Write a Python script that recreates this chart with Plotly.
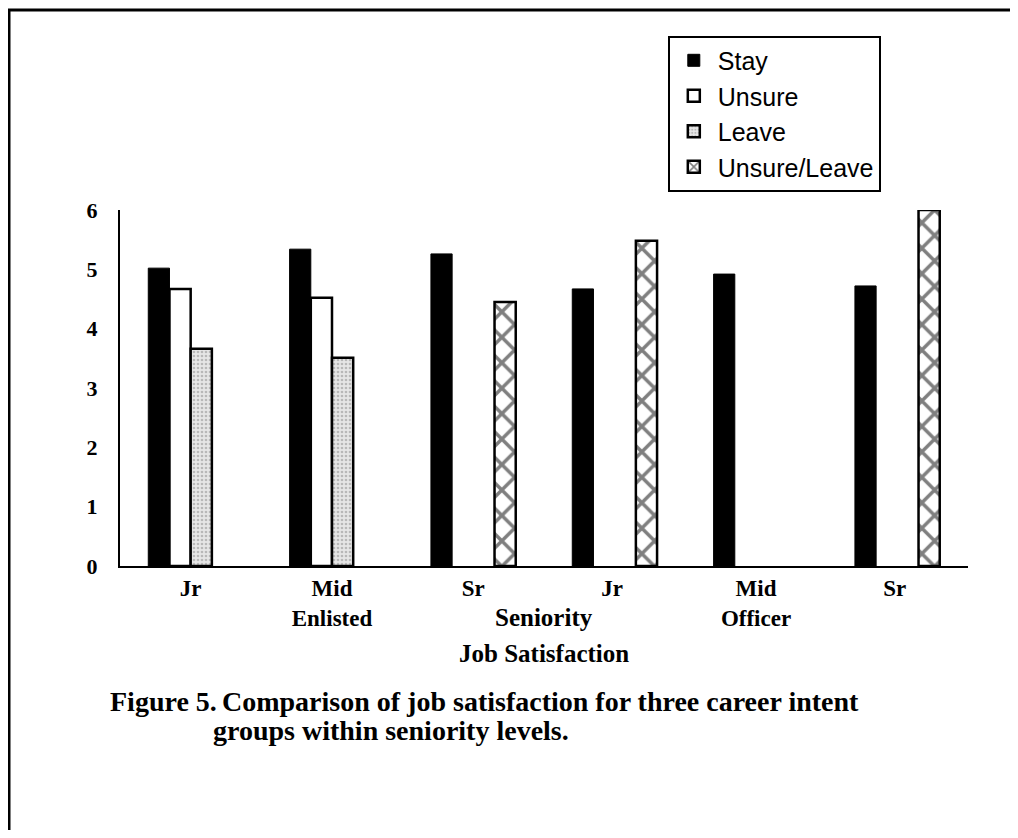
import plotly.graph_objects as go

CATEGORIES = ["Jr", "Mid<br>Enlisted", "Sr", "Jr ", "Mid<br>Officer", "Sr "]
STAY = [5.02, 5.34, 5.26, 4.67, 4.92, 4.72]
UNSURE = [4.67, 4.52, None, None, None, None]
LEAVE = [3.66, 3.51, None, None, None, None]
UNSURE_LEAVE = [None, None, 4.45, 5.48, None, 6.0]
Y_TICKS = [0, 1, 2, 3, 4, 5, 6]

SERIF = "Liberation Serif, Times New Roman, serif"
SANS = "Liberation Sans, Arial, sans-serif"

fig = go.Figure()

fig.add_trace(
    go.Bar(
        name="Stay",
        x=CATEGORIES,
        y=STAY,
        marker=dict(color="black", line=dict(color="black", width=1)),
    )
)
fig.add_trace(
    go.Bar(
        name="Unsure",
        x=CATEGORIES,
        y=UNSURE,
        marker=dict(color="white", line=dict(color="black", width=2.5)),
    )
)
fig.add_trace(
    go.Bar(
        name="Leave",
        x=CATEGORIES,
        y=LEAVE,
        marker=dict(
            color="#e6e6e6",
            line=dict(color="black", width=2.5),
            pattern=dict(shape=".", size=4, solidity=0.35, fgcolor="#8a8a8a", bgcolor="#e6e6e6"),
        ),
    )
)
fig.add_trace(
    go.Bar(
        name="Unsure/Leave",
        x=CATEGORIES,
        y=UNSURE_LEAVE,
        marker=dict(
            color="white",
            line=dict(color="black", width=2.5),
            pattern=dict(shape="x", size=18, solidity=0.35, fgcolor="black", bgcolor="white"),
        ),
    )
)

# page frame: only the top and left edges show in the scan
fig.add_shape(
    type="rect",
    xref="paper",
    yref="paper",
    x0=-0.1309,
    x1=1.25,
    y0=-0.9,
    y1=1.5618,
    line=dict(color="black", width=3),
)

fig.add_annotation(
    text="<b>Seniority</b>", x=0.5, y=-0.146, xref="paper", yref="paper",
    xanchor="center", yanchor="middle",
    showarrow=False, font=dict(family=SERIF, size=25, color="black"),
)
fig.add_annotation(
    text="<b>Job Satisfaction</b>", x=0.5, y=-0.247, xref="paper", yref="paper",
    xanchor="center", yanchor="middle",
    showarrow=False, font=dict(family=SERIF, size=25, color="black"),
)
fig.add_annotation(
    text="<b>Figure 5.</b>",
    x=-0.0142, y=-0.382, xref="paper", yref="paper", xanchor="left", yanchor="middle",
    showarrow=False, font=dict(family=SERIF, size=28, color="black"),
)
fig.add_annotation(
    text="<b>Comparison of job satisfaction for three career intent</b>",
    x=0.1179, y=-0.382, xref="paper", yref="paper", xanchor="left", yanchor="middle",
    showarrow=False, font=dict(family=SERIF, size=28, color="black"),
)
fig.add_annotation(
    text="<b>groups within seniority levels.</b>",
    x=0.1073, y=-0.463, xref="paper", yref="paper", xanchor="left", yanchor="middle",
    showarrow=False, font=dict(family=SERIF, size=28, color="black"),
)

fig.update_layout(
    width=1002,
    height=822,
    margin=dict(l=112, r=42, t=202, b=264),
    paper_bgcolor="white",
    plot_bgcolor="white",
    barmode="group",
    bargap=0.4,
    bargroupgap=0,
    showlegend=True,
    legend=dict(
        x=0.646,
        y=1.49,
        xanchor="left",
        yanchor="top",
        bordercolor="black",
        borderwidth=2,
        bgcolor="white",
        font=dict(family=SANS, size=25, color="black"),
        itemwidth=38,
        entrywidth=200,
        tracegroupgap=0,
    ),
)

fig.update_traces(cliponaxis=False)

fig.update_xaxes(
    showline=True,
    linecolor="black",
    linewidth=2,
    showgrid=False,
    ticks="",
    tickfont=dict(family=SERIF, size=23, color="black", weight="bold"),
)
fig.update_yaxes(
    range=[0, 6],
    tickvals=Y_TICKS,
    showline=True,
    linecolor="black",
    linewidth=2,
    showgrid=False,
    zeroline=False,
    ticks="",
    ticklabelstandoff=16,
    tickfont=dict(family=SERIF, size=22, color="black", weight="bold"),
)

fig.write_html("out.html")
